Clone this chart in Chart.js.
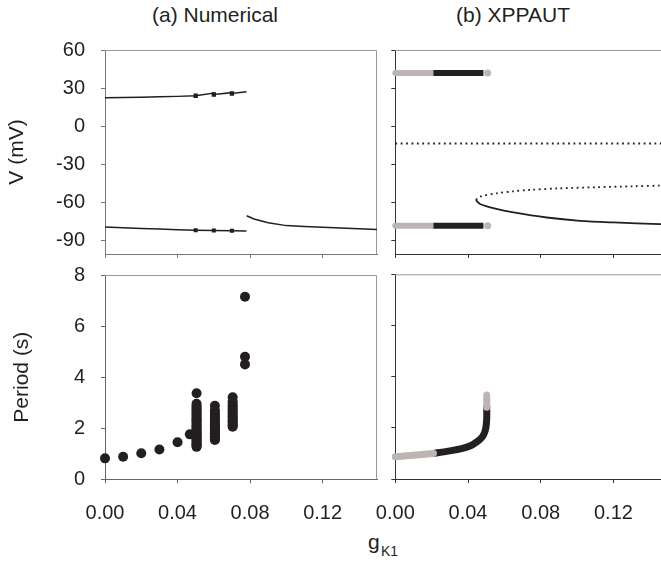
<!DOCTYPE html>
<html>
<head>
<meta charset="utf-8">
<script src="https://cdn.jsdelivr.net/npm/chart.js@4.4.0/dist/chart.umd.min.js"></script>
<style>
  html, body { margin: 0; padding: 0; background: #fff; overflow: hidden; width: 661px; height: 563px; }
  canvas { position: absolute; }
  .lbl { position: absolute; font-family: "Liberation Sans", Arial, sans-serif; color: #231f20; white-space: nowrap; }
</style>
</head>
<body>
<div class="lbl" style="left:115px; top:3px; width:200px; text-align:center; font-size:21px; line-height:24px;">(a) Numerical</div>
<div class="lbl" style="left:413px; top:3px; width:200px; text-align:center; font-size:21px; line-height:24px;">(b) XPPAUT</div>
<span class="lbl" style="left:368px; top:531px; font-size:21px; line-height:21px;">g</span>
<span class="lbl" style="left:381px; top:544px; font-size:14px; line-height:14px;">K1</span>

<canvas id="numV" width="390" height="262" style="left:0; top:0"></canvas>
<canvas id="xppV" width="320" height="262" style="left:360px; top:0"></canvas>
<canvas id="numT" width="390" height="301" style="left:0; top:262px"></canvas>
<canvas id="xppT" width="320" height="301" style="left:360px; top:262px"></canvas>

<script>
// ---- (a) numerical: V max / min vs gK1
var numMaxK = [0, 0.01, 0.02, 0.03, 0.04, 0.05, 0.06, 0.06, 0.07, 0.07, 0.078];
var numMaxV = [22.3, 22.5, 22.8, 23.1, 23.4, 23.9, 26.0, 24.9, 26.3, 25.7, 27.1];
var numMinK = [0, 0.01, 0.02, 0.03, 0.04, 0.05, 0.06, 0.07, 0.078];
var numMinV = [-79.6, -80.2, -80.8, -81.3, -81.8, -82.2, -82.4, -82.6, -82.8];
var numRestK = [0.0781, 0.0822, 0.09, 0.1, 0.11, 0.12, 0.13, 0.14, 0.15];
var numRestV = [-70.8, -73.4, -76.4, -78.6, -79.3, -79.9, -80.5, -81.0, -81.6];

// ---- (a) numerical: period
var numSeqK = [0, 0.01, 0.02, 0.03, 0.04, 0.0468];
var numSeqP = [0.82, 0.88, 1.02, 1.17, 1.45, 1.76];
var burstK = [0.0505, 0.0606, 0.0704, 0.0772];
var burstP = [
  [1.27, 1.31, 1.36, 1.40, 1.46, 1.51, 1.55, 1.62, 1.66, 1.71, 1.77, 1.82, 1.86, 1.93, 1.97, 2.04, 2.09, 2.13, 2.20, 2.26, 2.31, 2.37, 2.42, 2.50, 2.56, 2.61, 2.68, 2.74, 2.81, 2.88, 2.96, 3.37],
  [1.54, 1.58, 1.63, 1.69, 1.74, 1.80, 1.85, 1.91, 1.97, 2.03, 2.10, 2.16, 2.22, 2.30, 2.37, 2.44, 2.52, 2.60, 2.70, 2.88],
  [2.06, 2.10, 2.15, 2.21, 2.27, 2.33, 2.40, 2.47, 2.55, 2.62, 2.70, 2.78, 2.86, 2.95, 3.05, 3.21],
  [4.50, 4.80, 7.15]
];

// ---- (b) XPPAUT: bifurcation diagram
var xppGreyK = [0, 0.021];
var xppBlackK = [0.021, 0.0485];
var xppEndK = [0.0508];
var xppMaxV = [41.9, 41.9];
var xppMinV = [-78.8, -78.8];
var xppUnstK = [0, 0.15];
var xppUnstV = [-13.8, -13.8];
var xppFoldUK = [0.0443, 0.0466, 0.0558, 0.065, 0.0741, 0.09, 0.11, 0.13, 0.146, 0.15];
var xppFoldUV = [-58.3, -55.7, -53.1, -51.5, -50.4, -49.2, -48.3, -47.6, -47.0, -46.9];
var xppFoldSK = [0.0443, 0.0466, 0.055, 0.065, 0.0833, 0.1016, 0.12, 0.1457, 0.15];
var xppFoldSV = [-58.5, -61.5, -65.2, -68.2, -72.2, -74.8, -76.1, -77.4, -77.6];

// ---- (b) XPPAUT: period
var xppPerGreyK = [0, 0.01, 0.021];
var xppPerGreyP = [0.87, 0.93, 1.0];
var xppPerK = [0.021, 0.03, 0.037, 0.042, 0.045, 0.047, 0.0485, 0.0495, 0.05, 0.0503, 0.0503];
var xppPerP = [1.0, 1.1, 1.2, 1.32, 1.46, 1.58, 1.72, 1.9, 2.1, 2.4, 2.85];
var xppPerTopK = [0.0503, 0.0503];
var xppPerTopP = [2.8, 3.28];

var FONT = "'Liberation Sans', Arial, sans-serif";
var INK = '#231f20';
var GREY = '#bdb5b3';

function pts(xs, ys) {
  return xs.map(function (x, i) { return { x: x, y: ys[i] }; });
}

var framePlugin = {
  id: 'frame',
  beforeDatasetsDraw: function (chart, args, opts) {
    var a = chart.chartArea, ctx = chart.ctx;
    ctx.save();
    ctx.strokeStyle = opts.color;
    ctx.lineWidth = 1;
    ctx.beginPath();
    ctx.moveTo(a.left, a.top + 0.5);
    ctx.lineTo(a.right - 0.5, a.top + 0.5);
    ctx.lineTo(a.right - 0.5, a.bottom);
    ctx.stroke();
    ctx.restore();
  }
};

function makeChart(id, datasets, o) {
  return new Chart(document.getElementById(id), {
    type: 'scatter',
    data: { datasets: datasets },
    plugins: [framePlugin],
    options: {
      responsive: false,
      animation: false,
      devicePixelRatio: 1,
      layout: { padding: { top: o.padTop, right: o.padRight, left: 0, bottom: 0 } },
      plugins: {
        legend: { display: false },
        tooltip: { enabled: false },
        frame: { color: o.frameColor }
      },
      scales: {
        x: {
          type: 'linear', min: 0, max: 0.15,
          ticks: {
            stepSize: 0.04, includeBounds: false, display: o.xLabels, padding: 18,
            color: INK, font: { size: 20, family: FONT }, maxRotation: 0,
            callback: function (v) { return v.toFixed(2); }
          },
          grid: { drawOnChartArea: false, tickLength: 4, color: o.axisColor },
          border: { color: o.axisColor },
          afterFit: function (s) { s.height = o.xH; s.paddingLeft = 0; s.paddingRight = 0; }
        },
        y: {
          type: 'linear', min: o.yMin, max: o.yMax,
          ticks: {
            stepSize: o.yStep, includeBounds: false, display: o.yLabels, padding: 16,
            color: INK, font: { size: 20, family: FONT }
          },
          title: {
            display: !!o.yTitle, text: o.yTitle, color: INK,
            font: { size: 21, family: FONT }, padding: { top: o.yTitlePad, bottom: 0 }
          },
          grid: { drawOnChartArea: false, tickLength: 4, color: o.axisColor },
          border: { color: o.axisColor },
          afterFit: function (s) { s.width = o.yW; s.paddingTop = 0; s.paddingBottom = 0; }
        }
      }
    }
  });
}

function lineSet(data, color, width, extra) {
  var d = { data: data, showLine: true, borderColor: color, backgroundColor: color,
            borderWidth: width, pointRadius: 0, clip: false, tension: 0 };
  for (var k in extra) d[k] = extra[k];
  return d;
}

// top-left
makeChart('numV', [
  lineSet(pts(numMaxK, numMaxV), INK, 1.5, {
    pointStyle: 'rect', pointRadius: [0, 0, 0, 0, 0, 2, 0, 2, 0, 2, 0], order: 1 }),
  lineSet(pts(numMinK, numMinV), INK, 1.5, {
    pointStyle: 'rect', pointRadius: [0, 0, 0, 0, 0, 1.8, 1.8, 1.8, 0], order: 1 }),
  lineSet(pts(numRestK, numRestV), INK, 1.5, { order: 1 })
], { padTop: 50, padRight: 13, xH: 8, yW: 105, yMin: -101, yMax: 60, yStep: 30,
     xLabels: false, yLabels: true, yTitle: 'V (mV)', yTitlePad: 5,
     axisColor: '#777', frameColor: '#999' });

// top-right
makeChart('xppV', [
  lineSet(pts(xppBlackK, xppMaxV), INK, 6, { borderCapStyle: 'butt', order: 1 }),
  lineSet(pts(xppBlackK, xppMinV), INK, 6, { borderCapStyle: 'butt', order: 1 }),
  lineSet(pts(xppGreyK, xppMaxV), GREY, 6, { borderCapStyle: 'round', order: 2 }),
  lineSet(pts(xppGreyK, xppMinV), GREY, 6, { borderCapStyle: 'round', order: 2 }),
  { data: pts(xppEndK, [xppMaxV[0]]).concat(pts(xppEndK, [xppMinV[0]])), pointRadius: 3.5,
    backgroundColor: GREY, borderWidth: 0, clip: false, order: 3 },
  lineSet(pts(xppUnstK, xppUnstV), INK, 1.8, { borderDash: [1.8, 3.6], order: 1 }),
  lineSet(pts(xppFoldUK, xppFoldUV), INK, 1.8, { borderDash: [1.8, 3.6], tension: 0.3, order: 1 }),
  lineSet(pts(xppFoldSK, xppFoldSV), INK, 1.8, { tension: 0.3, order: 1 })
], { padTop: 50, padRight: 12, xH: 8, yW: 35.3, yMin: -101, yMax: 60, yStep: 30,
     xLabels: false, yLabels: false, yTitle: '', yTitlePad: 0,
     axisColor: '#333', frameColor: '#999' });

// bottom-left
var burstPts = [];
burstK.forEach(function (k, i) {
  burstP[i].forEach(function (p) { burstPts.push({ x: k, y: p }); });
});
makeChart('numT', [
  { data: pts(numSeqK, numSeqP).concat(burstPts), pointRadius: 5, pointStyle: 'circle',
    backgroundColor: INK, borderWidth: 0, clip: false }
], { padTop: 13, padRight: 13, xH: 83.7, yW: 105, yMin: 0, yMax: 8, yStep: 2,
     xLabels: true, yLabels: true, yTitle: 'Period (s)', yTitlePad: 10,
     axisColor: '#666', frameColor: '#999' });

// bottom-right
makeChart('xppT', [
  lineSet(pts(xppPerK, xppPerP), INK, 7, { borderCapStyle: 'butt', borderJoinStyle: 'round', tension: 0.2, order: 2 }),
  lineSet(pts(xppPerGreyK, xppPerGreyP), GREY, 7, { borderCapStyle: 'round', order: 1 }),
  lineSet(pts(xppPerTopK, xppPerTopP), GREY, 7, { borderCapStyle: 'round', order: 1 })
], { padTop: 12.3, padRight: 12, xH: 84, yW: 35.3, yMin: 0, yMax: 8, yStep: 2,
     xLabels: true, yLabels: false, yTitle: '', yTitlePad: 0,
     axisColor: '#333', frameColor: '#999' });
</script>
</body>
</html>
